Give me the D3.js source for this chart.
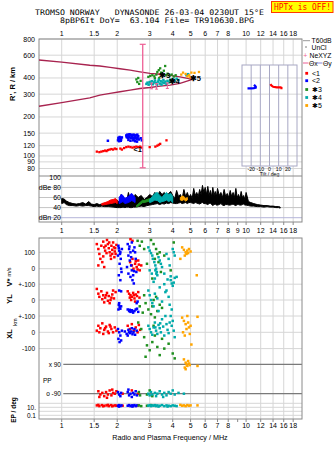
<!DOCTYPE html>
<html><head><meta charset="utf-8">
<script src="https://cdn.jsdelivr.net/npm/d3@7"></script>
<style>
body{margin:0;background:#fff}
svg{display:block}
text{font-family:"Liberation Sans",Arial,sans-serif;fill:#000}
.mono{font-family:"DejaVu Sans Mono",monospace;white-space:pre}
</style>
</head><body>
<svg id="c" width="335" height="451"></svg>
<script>
// ---------- tick labels ----------
const freqTicksTop = [1,1.5,2,3,4,5,6,7,8,10,12,14,16,18];
const freqTicksMid = [1,1.5,2,3,4,5,6,7,8,9,10,12,14,16,18];
const freqTicksBot = [1,1.5,2,3,4,5,6,7,8,10,12,14,16,18];
const heightTicks = [80,90,100,120,150,200,300,400,600,800];
const dbTicks = [100,80,60,40,20];
const tiltTicks = [-20,-10,0,10,20];

// ---------- top panel: virtual height (freq MHz, km) ----------
const hRed = [[1.55,108],[1.60,107],[1.64,108],[1.68,109],[1.72,110],[1.75,109],[1.78,111],[1.82,112],[1.86,113],[1.90,112],[1.94,114],[1.98,113],[2.08,114],[2.12,112],[2.18,115],[2.24,117],[2.30,118],[2.36,117],[2.42,116],[2.48,117],[2.54,118],[2.60,117],[2.66,118],[2.72,116],[3.00,117],[3.22,118],[3.30,120],[3.36,122],[3.42,124],[3.70,132]];
const hBlue = [[2.02,132],[2.04,136],[2.06,140],[2.08,138],[2.10,134],[2.05,130],[2.12,139],[2.03,138],[2.09,131],[2.24,144],[2.27,146],[2.30,145],[2.33,147],[2.36,146],[2.39,145],[2.42,144],[2.45,146],[2.48,145],[2.51,143],[2.54,144],[2.57,146],[2.60,142],[2.25,140],[2.28,138],[2.31,141],[2.34,139],[2.37,137],[2.40,140],[2.43,138],[2.46,136],[2.49,139],[2.52,137],[2.55,135],[2.58,138],[2.30,133],[2.36,131],[2.44,132],[2.50,130],[2.56,129],[2.62,134],[2.68,137],[2.72,132],[1.78,131]];
const hGreen = [[2.54,390],[2.57,372],[2.60,400],[2.63,360],[2.68,380],[2.95,408],[3.02,415],[3.10,420],[3.18,412],[3.26,425],[3.30,445],[3.36,460],[3.42,475],[3.46,440],[3.52,430],[3.58,455],[3.64,495],[3.68,420],[3.75,432],[3.85,418],[3.95,425],[4.05,410],[4.15,420],[3.38,400],[3.20,398]];
const hCyan = [[2.88,360],[2.92,368],[2.96,355],[3.00,372],[3.04,362],[3.08,378],[3.12,358],[3.16,370],[3.20,382],[3.24,365],[3.28,352],[3.32,375],[3.36,388],[3.40,362],[3.44,378],[3.48,356],[3.52,370],[3.56,385],[3.60,365],[3.65,375],[3.70,360],[3.75,380],[3.82,370],[3.88,388],[3.95,375],[4.02,392],[4.10,380],[4.20,395],[4.30,385],[4.75,420],[4.85,428]];
const hOrange = [[4.45,425],[4.55,440],[4.70,430],[4.80,412],[4.90,420],[4.95,405],[5.05,440],[5.25,438],[5.55,445]];
const lensUpper = [[0.753,551],[1.0,530],[1.42,501],[1.61,495],[1.83,483],[2.07,471],[2.35,460],[2.66,446],[3.01,434],[3.42,427],[3.87,419],[4.38,408],[4.97,394],[5.1,390]];
const lensLower = [[0.753,242],[1.0,258],[1.42,281],[1.61,295],[1.83,304],[2.07,313],[2.35,322],[2.66,332],[3.01,338],[3.42,346],[3.87,352],[4.38,363],[4.97,385],[5.1,390]];
const pinkBar = [2.75, 81, 728];
const errBars = [[3.07,330,365],[3.27,328,362],[3.74,332,366]];
const markLabels = [["<1",2.45,108],["\u27313",3.38,398],["\u27314",3.80,362],["\u27315",4.95,378]];
// tilt inset (deg, km)
const tiltBlue = [[-24,333],[-20,333],[-17,334],[-15,337],[-15,343],[-16,349],[-17,354]];
const tiltRed = [[1,358],[2,350],[4,342],[8,339],[12,338],[13,336],[13,328]];

// ---------- dB panel (freq, low dB, high dB) ----------
const dbBlack = [[1.00,48,58],[1.03,50,57],[1.06,46,53],[1.10,44,50],[1.15,44,48],[1.20,43,47],[1.25,44,48],[1.30,43,50],[1.35,44,47],[1.40,44,52],[1.45,43,47],[1.50,42,46],[1.55,43,48],[1.60,42,46],[1.65,43,47],[1.70,42,48],[1.80,42,50],[1.90,41,52],[2.00,40,55],[2.05,40,50],[2.10,40,66],[2.15,41,54],[2.20,40,58],[2.25,41,52],[2.30,41,70],[2.35,40,56],[2.40,40,62],[2.45,41,54],[2.50,41,66],[2.60,42,60],[2.70,43,64],[2.80,42,56],[2.90,44,60],[3.00,45,66],[3.10,46,62],[3.20,47,70],[3.30,48,64],[3.40,46,72],[3.50,48,66],[3.60,47,70],[3.70,49,62],[3.80,48,68],[3.90,50,72],[4.00,49,64],[4.10,48,58],[4.20,48,74],[4.30,49,62],[4.40,50,66],[4.50,48,58],[4.60,49,76],[4.70,50,62],[4.80,48,70],[4.90,50,60],[5.00,50,66],[5.10,49,58],[5.20,48,78],[5.30,50,64],[5.40,49,70],[5.50,48,62],[5.60,47,76],[5.70,49,66],[5.80,50,84],[5.90,48,70],[6.00,48,80],[6.10,47,66],[6.20,46,82],[6.30,48,64],[6.40,49,74],[6.50,46,62],[6.60,44,80],[6.70,46,64],[6.80,47,72],[6.90,45,62],[7.00,45,78],[7.15,46,64],[7.30,48,70],[7.45,45,60],[7.60,44,76],[7.75,46,62],[7.90,46,68],[8.05,45,60],[8.20,45,74],[8.35,46,62],[8.50,47,70],[8.65,45,60],[8.80,44,78],[8.95,46,60],[9.10,46,66],[9.25,45,58],[9.40,45,72],[9.55,46,60],[9.70,47,64],[9.85,45,56],[10.0,45,70],[10.3,44,52],[10.6,43,50],[11.0,43,48],[11.5,42,46],[12.0,42,45],[12.5,41,44],[13.0,42,44],[13.5,41,43],[14.0,41,43],[14.5,40,42],[15.0,40,42],[15.3,39,41]];
const dbRed = [[1.65,45,48],[1.72,46,50],[1.78,47,52],[1.84,48,55],[1.90,49,56],[1.96,50,58],[2.00,48,54]];
const dbBlue = [[2.05,48,60],[2.10,50,66],[2.15,52,64],[2.20,48,58],[2.30,50,62],[2.35,52,66],[2.40,54,68],[2.45,52,64],[2.50,50,60]];
const dbGreen = [[2.55,41,45],[2.58,42,46],[2.75,50,55],[2.80,50,54],[3.00,53,58],[3.04,53,57]];
const dbCyan = [[3.00,50,56],[3.10,52,62],[3.20,55,68],[3.30,54,70],[3.40,50,64],[3.50,52,60],[3.60,53,66],[3.70,55,70],[3.80,52,66],[3.90,54,68],[4.00,50,62]];
const dbOrange = [[4.40,55,60],[4.50,54,63],[4.60,56,62],[4.70,53,58],[4.80,55,60]];

// ---------- bottom panel ----------
const vRed = [[1.55,150],[1.58,120],[1.60,90],[1.62,60],[1.58,20],[1.64,140],[1.68,165],[1.70,130],[1.72,110],[1.75,95],[1.78,150],[1.80,125],[1.82,100],[1.84,80],[1.86,140],[1.88,115],[1.90,160],[1.92,130],[1.94,105],[1.96,90],[1.98,145],[1.76,175],[1.66,40],[1.70,10],[1.85,60],[1.93,70],[1.68,75],[1.73,140],[1.81,160],[1.88,90],[1.95,125],[2.35,40],[2.40,20],[2.45,0],[2.50,30],[2.55,10],[2.60,50],[2.65,-10],[2.70,20],[2.42,60],[2.58,-5],[2.36,180],[2.42,170],[2.52,45],[2.62,25]];
const vBlue = [[2.03,140],[2.05,110],[2.07,90],[2.09,60],[2.06,30],[2.10,0],[2.04,-40],[2.08,-70],[2.12,120],[2.02,80],[2.11,-20],[2.04,125],[2.08,100],[2.28,150],[2.32,120],[2.36,100],[2.30,80],[2.34,50],[2.38,20],[2.40,-10],[2.44,-40],[2.42,-70],[2.46,-90],[2.50,100],[2.48,130],[2.52,60],[2.36,-50],[2.30,-30],[2.40,160],[2.54,-20],[2.26,10],[2.33,135],[2.44,110],[2.38,70],[2.47,-15]];
const vGreen = [[2.58,170],[2.65,140],[2.72,165],[2.80,120],[3.05,175],[3.15,150],[3.25,120],[3.30,90],[3.20,60],[3.35,40],[3.40,100],[2.90,30],[3.45,-20],[3.10,-60],[4.05,160],[3.90,-10],[3.60,80]];
const vCyan = [[2.95,130],[3.00,110],[3.05,95],[3.10,80],[3.12,60],[3.18,40],[3.22,20],[3.25,0],[3.28,-20],[3.30,-40],[3.20,-60],[3.15,-80],[3.35,70],[3.40,50],[3.45,30],[3.50,10],[3.60,-30],[3.70,90],[3.80,60],[3.90,-70],[3.95,-90],[4.00,120],[4.05,100],[4.10,80],[3.85,20],[4.20,-50],[3.00,-10],[3.08,-30],[3.22,-10],[3.26,-30]];
const vOrange = [[4.50,130],[4.60,115],[4.70,100],[4.75,90],[4.80,110],[4.85,95],[4.90,120],[4.65,80],[5.00,105],[5.40,-40],[4.40,60]];
const ylRed = [[1.55,70],[1.58,40],[1.60,20],[1.64,55],[1.68,30],[1.72,15],[1.76,45],[1.80,25],[1.84,0],[1.88,35],[1.92,10],[1.96,50],[1.70,-15],[1.82,-20],[1.66,5],[1.90,60],[1.78,-5],[1.74,30],[1.86,15],[2.28,55],[2.32,40],[2.36,30],[2.40,20],[2.44,45],[2.48,10],[2.52,35],[2.56,25],[2.60,50],[2.64,15],[2.38,0],[2.50,-10],[2.34,15],[2.46,30]];
const ylBlue = [[2.04,-30],[2.06,-45],[2.08,-55],[2.10,-40],[2.05,-20],[2.03,-60],[2.28,-60],[2.32,-70],[2.36,-75],[2.40,-65],[2.44,-80],[2.48,-70],[2.52,-60],[2.56,-55],[2.60,-75],[2.55,-20],[2.58,-10],[2.05,60],[2.10,55],[2.34,-62],[2.42,-72]];
const ylGreen = [[2.65,-40],[2.75,-80],[2.85,-20],[2.95,-60],[3.05,-90],[3.10,-40],[3.15,0],[3.20,-110],[3.30,-70],[3.40,-30],[3.50,-50],[2.80,30],[3.25,20]];
const ylCyan = [[2.95,60],[3.00,30],[3.05,0],[3.10,-20],[3.15,-40],[3.20,40],[3.30,10],[3.40,80],[3.50,-10],[3.60,100],[3.70,60],[3.75,130],[3.80,20],[3.90,150],[4.00,90],[4.05,110],[4.10,140],[3.95,-60],[3.85,-30],[3.35,-70],[3.65,50]];
const xlRed = [[1.55,10],[1.58,40],[1.60,0],[1.62,25],[1.66,55],[1.70,15],[1.74,35],[1.78,5],[1.82,45],[1.86,20],[1.90,0],[1.94,30],[1.98,10],[1.68,-10],[1.80,-5],[1.72,25],[1.84,35],[2.28,40],[2.34,20],[2.40,50],[2.46,10],[2.52,30],[2.58,0],[2.62,45],[2.66,15]];
const xlBlue = [[2.02,20],[2.05,0],[2.08,-20],[2.10,-50],[2.12,10],[2.06,-60],[2.20,5],[2.25,-10],[2.30,15],[2.35,-5],[2.40,25],[2.45,0],[2.50,-15],[2.55,10],[2.03,-40],[2.28,-20],[2.38,5],[2.48,20],[2.32,0],[2.42,-12]];
const xlGreen = [[2.60,60],[2.70,20],[2.80,-30],[2.90,-80],[3.00,-110],[3.10,-60],[3.20,-20],[3.30,-90],[3.40,-140],[3.50,-40],[3.60,-100],[3.80,-70],[4.00,-130],[4.10,-160],[3.15,40],[2.85,-150]];
const xlCyan = [[2.95,40],[3.00,20],[3.05,0],[3.10,-15],[3.15,30],[3.20,60],[3.25,10],[3.30,-10],[3.35,45],[3.40,25],[3.45,0],[3.50,80],[3.55,35],[3.60,-20],[3.70,50],[3.75,15],[3.80,-5],[3.90,100],[3.95,40],[4.00,70],[4.05,10],[4.10,-30],[3.85,60],[3.65,100],[3.22,30],[3.42,55]];
const xlOrange = [[4.50,90],[4.60,70],[4.70,50],[4.75,20],[4.80,100],[4.85,60],[4.90,30],[4.95,-10],[4.65,-20],[5.00,40],[5.45,95],[5.05,-75],[4.55,0]];
const ppRed = [[1.58,-75],[1.62,-95],[1.66,-85],[1.70,-105],[1.74,-80],[1.78,-95],[1.82,-70],[1.86,-100],[1.90,-85],[1.94,-90],[1.98,-75],[1.60,-110],[1.76,-115],[1.88,-65],[2.14,-90],[2.40,-70],[2.60,-90]];
const ppBlue = [[2.02,-80],[2.05,-95],[2.08,-105],[2.10,-85],[2.28,-80],[2.32,-100],[2.36,-90],[2.40,-110],[2.44,-85],[2.48,-95],[2.52,-75],[2.56,-100],[2.30,-65]];
const ppGreen = [[2.62,-80],[2.66,-100],[2.90,-95],[3.00,-70],[3.10,-105]];
const ppCyan = [[2.95,-90],[3.00,-100],[3.05,-80],[3.10,-95],[3.20,-85],[3.25,-105],[3.30,-90],[3.40,-75],[3.50,-95],[3.60,-85],[3.70,-100],[3.80,-80],[3.90,-90],[4.00,-70],[4.10,-95],[4.30,-85],[4.60,-90],[3.55,-110]];
const ppOrange = [[4.60,120],[4.70,100],[4.75,90],[4.80,80],[4.85,110],[4.90,95],[4.65,70],[4.95,85],[5.45,80],[4.70,60]];
const epRed = [[1.55,30],[1.60,20],[1.65,35],[1.70,25],[1.75,30],[1.80,20],[1.85,35],[1.90,25],[1.95,30],[1.58,40],[1.68,18],[1.78,40],[1.88,18],[1.98,25],[2.14,25],[2.60,30]];
const epBlue = [[2.02,25],[2.05,35],[2.08,20],[2.11,30],[2.28,25],[2.32,35],[2.36,20],[2.40,30],[2.44,25],[2.48,35],[2.52,20],[2.56,30],[2.04,15],[2.42,15]];
const epGreen = [[2.62,30],[2.70,20],[2.90,25],[3.05,35]];
const epCyan = [[2.95,25],[3.00,35],[3.05,20],[3.10,30],[3.15,25],[3.20,35],[3.25,20],[3.30,30],[3.40,25],[3.50,35],[3.60,20],[3.70,30],[3.80,25],[3.90,20],[4.00,30],[4.10,25],[4.20,20],[3.35,15],[3.75,15]];
const epOrange = [[4.50,25],[4.60,30],[4.70,20],[4.80,35],[4.90,25],[5.00,30],[5.45,30],[4.40,40]];

// ---------- colours ----------
const C = {red:"#ff0000",blue:"#0000ff",green:"#1f8f1f",cyan:"#00aaaa",orange:"#ffa500",lens:"#a8234f",pink:"#ee5f95",grid:"#d6d6d6",frame:"#8a8a8a"};

const svg = d3.select("#c");
const X0=39, X1=302;
const x = d3.scaleLog().domain([0.753,20.1]).range([X0,X1]);
const yH = d3.scaleLog().domain([70,800]).range([176,39]);
const yDB = d3.scaleLinear().domain([11.5,102.6]).range([222,176]);
const yV = d3.scaleLinear().domain([0,100]).range([268.7,252.3]);
const yYL = d3.scaleLinear().domain([0,100]).range([300,284.2]);
const yXL = d3.scaleLinear().domain([0,100]).range([332.3,316]);
const yPP = d3.scaleLinear().domain([-90,90]).range([393.7,364.3]);
const yEP = d3.scaleLog().domain([0.1,10]).range([415.3,407.3]);
const tX = d3.scaleLinear().domain([-30,30]).range([242,297]);

// ---------- title ----------
svg.append("text").attr("class","mono").attr("x",35).attr("y",14.8).attr("font-size",7.6)
  .attr("textLength",229).attr("lengthAdjust","spacingAndGlyphs")
  .text("TROMSO NORWAY   DYNASONDE 26-03-04 0230UT 15\u00B0E");
svg.append("text").attr("class","mono").attr("x",60).attr("y",23).attr("font-size",7.6)
  .attr("textLength",194).attr("lengthAdjust","spacingAndGlyphs")
  .text("8pBP6It DoY=  63.104 File= TR910630.BPG");
svg.append("rect").attr("x",271.5).attr("y",1.5).attr("width",61.5).attr("height",11).attr("fill","#ffff00").attr("stroke","#ff3a00").attr("stroke-width",1);
svg.append("text").attr("class","mono").attr("x",274).attr("y",10.2).attr("font-size",8.3)
  .style("fill","#ff0000").attr("textLength",57).attr("lengthAdjust","spacingAndGlyphs").text("HPTx is OFF!");

// ---------- grids ----------
function vgrid(y0,y1,ticks){
  svg.append("g").selectAll("line").data(ticks).join("line")
    .attr("x1",d=>x(d)).attr("x2",d=>x(d)).attr("y1",y0).attr("y2",y1)
    .attr("stroke",C.grid).attr("stroke-width",1);
}
vgrid(39,222,freqTicksTop);
vgrid(238,419,freqTicksBot);

// tilt inset background
svg.append("rect").attr("x",tX(-30)).attr("y",65).attr("width",tX(30)-tX(-30)).attr("height",101).attr("fill","#fff");

// horizontal grids top
svg.append("g").selectAll("line").data(heightTicks).join("line")
  .attr("x1",X0).attr("x2",X1).attr("y1",d=>yH(d)).attr("y2",d=>yH(d)).attr("stroke",C.grid);
svg.append("g").selectAll("line").data([80,60,40]).join("line")
  .attr("x1",X0).attr("x2",X1).attr("y1",d=>yDB(d)).attr("y2",d=>yDB(d)).attr("stroke","#c4c4c4");
svg.append("line").attr("x1",X0).attr("x2",X1).attr("y1",yDB(20)).attr("y2",yDB(20)).attr("stroke","#b4b4d8");

// inset lines
svg.append("g").selectAll("line").data(tiltTicks).join("line")
  .attr("x1",d=>tX(d)).attr("x2",d=>tX(d)).attr("y1",65).attr("y2",166).attr("stroke","#a8a8c4");
svg.append("rect").attr("x",tX(-30)).attr("y",65).attr("width",tX(30)-tX(-30)).attr("height",101)
  .attr("fill","none").attr("stroke","#a8a8c4");
svg.append("g").selectAll("text").data(tiltTicks).join("text")
  .attr("x",d=>tX(d)).attr("y",171).attr("font-size",5.2).attr("text-anchor","middle").text(d=>d);
svg.append("text").attr("x",tX(0)).attr("y",176).attr("font-size",5.2).attr("text-anchor","middle").text("Tilt / deg");

// bottom panel grids
const bottomLines = [[yV,100],[yV,0],[yYL,100],[yYL,0],[yXL,100],[yXL,0],[yXL,-100]];
svg.append("g").selectAll("line").data(bottomLines).join("line")
  .attr("x1",X0).attr("x2",X1).attr("y1",d=>d[0](d[1])).attr("y2",d=>d[0](d[1])).attr("stroke",C.grid);
svg.append("g").selectAll("line").data([100,10,1,0.1]).join("line")
  .attr("x1",X0).attr("x2",X1).attr("y1",d=>yEP(d)).attr("y2",d=>yEP(d)).attr("stroke",C.grid);
svg.append("g").selectAll("line").data([90,-90]).join("line")
  .attr("x1",x(1.02)).attr("x2",X1).attr("y1",d=>yPP(d)).attr("y2",d=>yPP(d)).attr("stroke","#7a7a7a").attr("stroke-width",1.2);

// frames
svg.append("rect").attr("x",X0).attr("y",39).attr("width",X1-X0).attr("height",183).attr("fill","none").attr("stroke",C.frame);
svg.append("line").attr("x1",X0).attr("x2",X1).attr("y1",176).attr("y2",176).attr("stroke",C.frame);
svg.append("rect").attr("x",X0).attr("y",238).attr("width",X1-X0).attr("height",181).attr("fill","none").attr("stroke",C.frame);
function ticks(y){
  svg.append("g").selectAll("line").data(freqTicksMid).join("line")
   .attr("x1",d=>x(d)).attr("x2",d=>x(d)).attr("y1",y).attr("y2",y+3).attr("stroke",C.frame);
}
ticks(222); ticks(419);

// frequency labels
function flabels(y,arr){
  svg.append("g").selectAll("text").data(arr).join("text")
    .attr("x",d=>x(d)).attr("y",y).attr("font-size",7).attr("text-anchor","middle").text(d=>d);
}
flabels(35.8,freqTicksTop); flabels(232.6,freqTicksMid); flabels(427.6,freqTicksBot);
svg.append("text").attr("x",170).attr("y",439.5).attr("font-size",7.2).attr("text-anchor","middle")
  .text("Radio and Plasma Frequency / MHz");

// height labels
svg.append("g").selectAll("text").data(heightTicks).join("text")
  .attr("x",35).attr("y",d=>yH(d)+2.5).attr("font-size",7).attr("text-anchor","end").text(d=>d);
function rot(txt,cx,cy,fs,bold){
  svg.append("text").attr("transform",`translate(${cx},${cy}) rotate(-90)`).attr("font-size",fs)
    .attr("font-weight",bold?"bold":"normal").attr("text-anchor","middle").attr("dominant-baseline","central").text(txt);
}
rot("R', R / km",12,84,7.5,true);

// dB labels
const dbLabelText = {100:"100",80:"dBe 80",60:"60",40:"40",20:"dBn 20"};
svg.append("g").selectAll("text").data(dbTicks).join("text")
  .attr("x",61).attr("y",d=>yDB(d)+2.5).attr("font-size",7).attr("text-anchor","end").text(d=>dbLabelText[d]);

// bottom labels
const bl = [[yV,100,"100"],[yV,0,"0"],[yYL,100,"+-100"],[yYL,0,"0"],[yXL,100,"+-100"],[yXL,0,"0"],[yXL,-100,"-100"]];
svg.append("g").selectAll("text").data(bl).join("text")
  .attr("x",35).attr("y",d=>d[0](d[1])+2.5).attr("font-size",6.5).attr("text-anchor","end").text(d=>d[2]);
svg.append("text").attr("x",61).attr("y",yPP(90)+2.5).attr("font-size",6.5).attr("text-anchor","end").text("x 90");
svg.append("text").attr("x",61).attr("y",yPP(-90)+2.5).attr("font-size",6.5).attr("text-anchor","end").text("o -90");
svg.append("text").attr("x",43).attr("y",yPP(0)+4).attr("font-size",6.5).text("PP");
svg.append("text").attr("x",36).attr("y",yEP(10)+2.5).attr("font-size",6.5).attr("text-anchor","end").text("10.");
svg.append("text").attr("x",36).attr("y",yEP(0.1)+2.5).attr("font-size",6.5).attr("text-anchor","end").text("0.1");
// rotated axis names
svg.append("text").attr("transform","translate(9,277) rotate(-90)").attr("text-anchor","middle").attr("dominant-baseline","central")
  .call(t=>{t.append("tspan").attr("font-size",7.5).attr("font-weight","bold").text("V* ");t.append("tspan").attr("font-size",5.5).text("m/s");});
rot("YL",9,299,7.5,true);
rot("km",14.5,322,5.5,false);
rot("XL",9,334,7.5,true);
rot("EP / deg",13,410,6.5,true);

// ---------- top panel marks ----------
const line = d3.line().x(d=>x(d[0])).y(d=>yH(d[1]));
svg.append("path").attr("d",line(lensUpper)).attr("fill","none").attr("stroke",C.lens).attr("stroke-width",1.4);
svg.append("path").attr("d",line(lensLower)).attr("fill","none").attr("stroke",C.lens).attr("stroke-width",1.4);

function pts(data,ys,color,s){
  s = s||2.5;
  svg.append("g").selectAll("rect").data(data).join("rect")
    .attr("x",d=>x(d[0])-s/2).attr("y",d=>ys(d[1])-s/2).attr("width",s).attr("height",s).attr("fill",color);
}
pts(hRed,yH,C.red,2.3); pts(hBlue,yH,C.blue,2.5); pts(hGreen,yH,C.green,2.3); pts(hCyan,yH,C.cyan,2.5); pts(hOrange,yH,C.orange,2.3);

// pink bar
svg.append("line").attr("x1",x(pinkBar[0])).attr("x2",x(pinkBar[0])).attr("y1",yH(pinkBar[1])).attr("y2",yH(pinkBar[2])).attr("stroke",C.pink).attr("stroke-width",1.3);
[pinkBar[1],pinkBar[2]].forEach(v=>svg.append("line").attr("x1",x(pinkBar[0])-3).attr("x2",x(pinkBar[0])+3).attr("y1",yH(v)).attr("y2",yH(v)).attr("stroke",C.pink).attr("stroke-width",1.2));
const eg = svg.append("g").attr("stroke",C.pink).attr("stroke-width",1);
errBars.forEach(e=>{
  eg.append("line").attr("x1",x(e[0])).attr("x2",x(e[0])).attr("y1",yH(e[1])).attr("y2",yH(e[2]));
  eg.append("line").attr("x1",x(e[0])-1.5).attr("x2",x(e[0])+1.5).attr("y1",yH(e[1])).attr("y2",yH(e[1]));
  eg.append("line").attr("x1",x(e[0])-1.5).attr("x2",x(e[0])+1.5).attr("y1",yH(e[2])).attr("y2",yH(e[2]));
});
svg.append("g").selectAll("text").data(markLabels).join("text")
  .attr("x",d=>x(d[1])).attr("y",d=>yH(d[2])).attr("font-size",7.5).attr("font-weight","bold")
  .attr("font-family","DejaVu Sans").text(d=>d[0]);

// tilt marks
const tline = d3.line().x(d=>tX(d[0])).y(d=>yH(d[1]));
svg.append("path").attr("d",tline(tiltBlue)).attr("fill","none").attr("stroke",C.blue).attr("stroke-width",2.2);
svg.append("path").attr("d",tline(tiltRed)).attr("fill","none").attr("stroke",C.red).attr("stroke-width",2.2);

// ---------- dB panel ----------
const area = d3.area().x(d=>x(d[0])).y0(d=>yDB(d[1])).y1(d=>yDB(d[2]));
svg.append("path").attr("d",area(dbBlack)).attr("fill","#000").attr("stroke","#000").attr("stroke-width",1);
[[dbRed,C.red],[dbBlue,C.blue],[dbGreen,C.green],[dbCyan,C.cyan],[dbOrange,C.orange]].forEach(([d,c])=>{
  svg.append("path").attr("d",area(d)).attr("fill",c).attr("stroke",c).attr("stroke-width",1);
});

// ---------- bottom panel marks ----------
pts(vRed,yV,C.red); pts(vBlue,yV,C.blue); pts(vGreen,yV,C.green); pts(vCyan,yV,C.cyan); pts(vOrange,yV,C.orange);
pts(ylRed,yYL,C.red); pts(ylBlue,yYL,C.blue); pts(ylGreen,yYL,C.green); pts(ylCyan,yYL,C.cyan);
pts(xlRed,yXL,C.red); pts(xlBlue,yXL,C.blue); pts(xlGreen,yXL,C.green); pts(xlCyan,yXL,C.cyan); pts(xlOrange,yXL,C.orange);
pts(ppRed,yPP,C.red); pts(ppBlue,yPP,C.blue); pts(ppGreen,yPP,C.green); pts(ppCyan,yPP,C.cyan); pts(ppOrange,yPP,C.orange);
pts(epRed,yEP,C.red); pts(epBlue,yEP,C.blue); pts(epGreen,yEP,C.green); pts(epCyan,yEP,C.cyan); pts(epOrange,yEP,C.orange);

// ---------- legend ----------
const L = svg.append("g");
L.append("line").attr("x1",303).attr("x2",310).attr("y1",40.7).attr("y2",40.7).attr("stroke","#999");
L.append("text").attr("x",311.5).attr("y",43.2).attr("font-size",6.8).text("T60dB");
L.append("rect").attr("x",305.5).attr("y",46.5).attr("width",1).attr("height",1).attr("fill","#000");
L.append("text").attr("x",311.5).attr("y",49.8).attr("font-size",6.8).text("UnCl");
L.append("text").attr("x",303.2).attr("y",58.3).attr("font-size",7).style("fill",C.pink).text("+");
L.append("text").attr("x",309.5).attr("y",58.3).attr("font-size",6.8).text("NeXYZ");
L.append("line").attr("x1",303).attr("x2",308.5).attr("y1",63).attr("y2",63).attr("stroke",C.pink);
L.append("text").attr("x",309).attr("y",65.5).attr("font-size",6.8).text("\u0398x");
L.append("line").attr("x1",317).attr("x2",322.5).attr("y1",63).attr("y2",63).attr("stroke","#8888dd");
L.append("text").attr("x",323).attr("y",65.5).attr("font-size",6.8).text("\u0398y");
const legItems = [["<1",C.red,73.3],["<2",C.blue,80.7],["\u27313",C.green,89.5],["\u27314",C.cyan,97.5],["\u27315",C.orange,105.5]];
legItems.forEach(([t,c,y])=>{
  L.append("rect").attr("x",305.3).attr("y",y-1.4).attr("width",2.8).attr("height",2.8).attr("fill",c);
  L.append("text").attr("x",312).attr("y",y+2.6).attr("font-size",7).attr("font-family","DejaVu Sans").text(t);
});
</script>
</body></html>
